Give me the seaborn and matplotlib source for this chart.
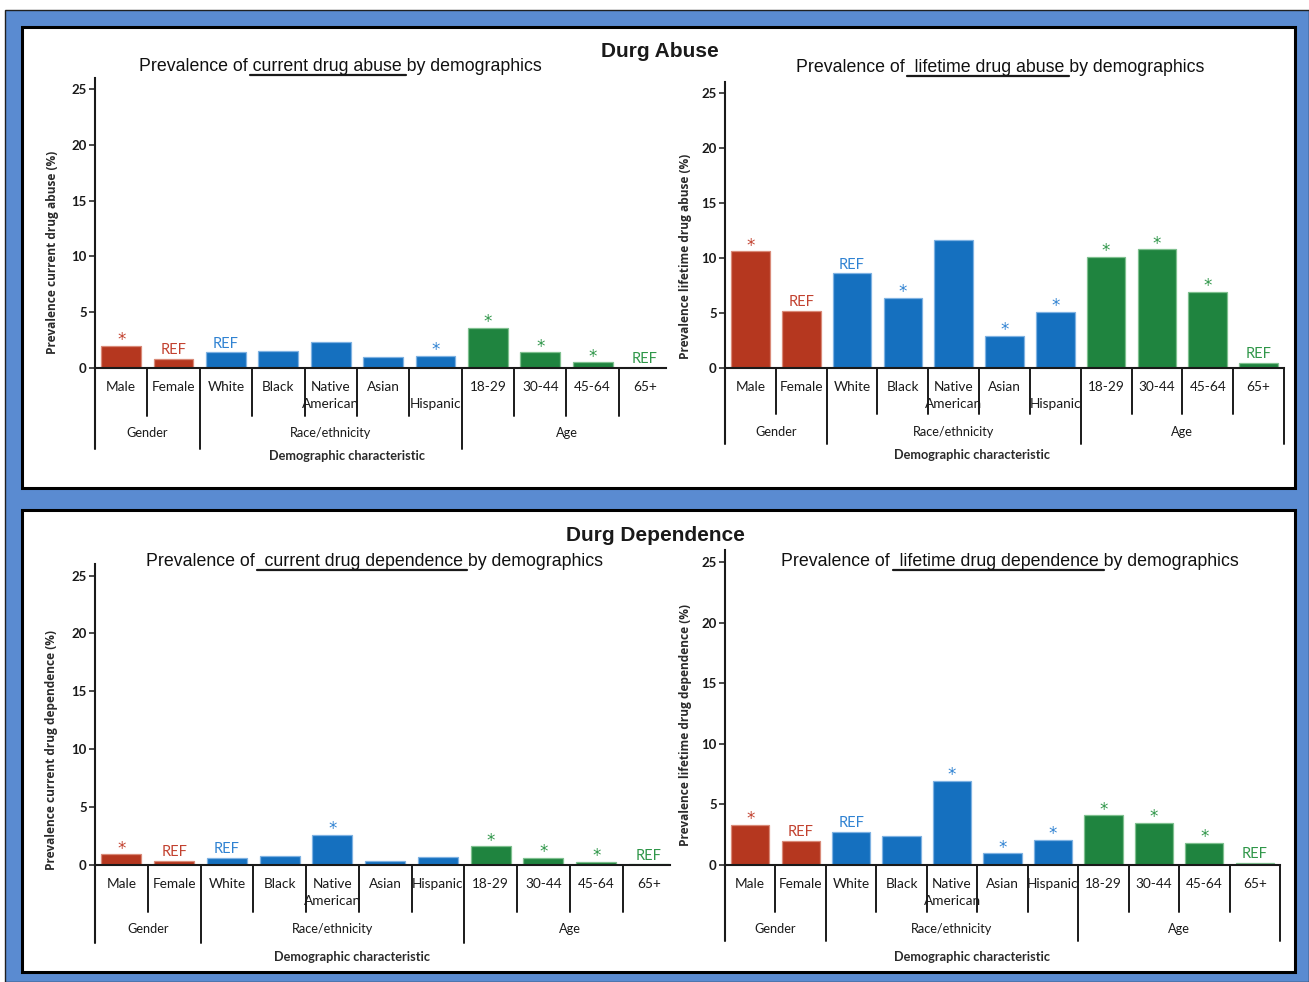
import matplotlib
matplotlib.use("Agg")
import matplotlib.pyplot as plt
import seaborn as sns
import pandas as pd
from matplotlib import transforms
from matplotlib.patches import Rectangle
from matplotlib.lines import Line2D

# ---------------- data ----------------
categories = ["Male", "Female", "White", "Black", "Native American", "Asian",
              "Hispanic", "18-29", "30-44", "45-64", "65+"]
groups = ["Gender", "Gender", "Race/ethnicity", "Race/ethnicity", "Race/ethnicity",
          "Race/ethnicity", "Race/ethnicity", "Age", "Age", "Age", "Age"]
group_names = ["Gender", "Race/ethnicity", "Age"]

current_abuse = [2.0, 0.8, 1.4, 1.55, 2.3, 0.95, 1.1, 3.6, 1.4, 0.5, 0.0]
lifetime_abuse = [10.6, 5.2, 8.6, 6.4, 11.6, 2.9, 5.1, 10.1, 10.8, 6.9, 0.5]
current_dependence = [0.92, 0.37, 0.6, 0.8, 2.6, 0.35, 0.72, 1.6, 0.6, 0.29, 0.05]
lifetime_dependence = [3.3, 2.0, 2.7, 2.4, 6.95, 0.96, 2.07, 4.1, 3.5, 1.85, 0.2]

current_abuse_marks = ["*", "REF", "REF", "", "", "", "*", "*", "*", "*", "REF"]
lifetime_abuse_marks = ["*", "REF", "REF", "*", "", "*", "*", "*", "*", "*", "REF"]
current_dependence_marks = ["*", "REF", "REF", "", "*", "", "", "*", "*", "*", "REF"]
lifetime_dependence_marks = ["*", "REF", "REF", "", "*", "*", "*", "*", "*", "*", "REF"]

y_ticks = [0, 5, 10, 15, 20, 25]

# ---------------- style ----------------
W, H = 1309, 982
bar_colors = {"Gender": "#b5371f", "Race/ethnicity": "#1570bf", "Age": "#1f843f"}
edge_colors = {"Gender": "#d98a78", "Race/ethnicity": "#7fb2e2", "Age": "#7fc08f"}
mark_colors = {"Gender": "#c2412f", "Race/ethnicity": "#2f82d2", "Age": "#2e9648"}
INK = "#1a1a1a"
LABEL_FONT = "Lato"
TITLE_FONT = "Liberation Sans"

sns.set_style("white")
plt.rcParams["font.family"] = ["Lato", "DejaVu Sans"]

fig = plt.figure(figsize=(W / 100, H / 100), dpi=100)
fig.patch.set_facecolor("white")


def fx(px):
    return px / W


def fy(py):
    return 1 - py / H


# blue frame and the two white boards
fig.add_artist(Rectangle((fx(5), 0), fx(W - 5), (H - 10) / H, transform=fig.transFigure,
                         facecolor="#5a8bd1", edgecolor="#202020", lw=1.0, zorder=-20))
for top, bot in [(27, 488), (510, 972)]:
    fig.add_artist(Rectangle((fx(22), fy(bot)), fx(1295 - 22), (bot - top) / H,
                             transform=fig.transFigure, facecolor="white",
                             edgecolor="black", lw=2.2, zorder=-10))


def underlined_title(cx, base, pre, mid, post, size):
    r = fig.canvas.get_renderer()
    kw = dict(fontsize=size, family=TITLE_FONT, color="#111111")

    def width(s):
        t = fig.text(0, 0, s, **kw)
        w = t.get_window_extent(r).width
        t.remove()
        return w

    ref = width("I")
    w_pre = width(pre + "I") - ref
    w_mid = width(pre + mid + "I") - ref - w_pre
    w_all = width(pre + mid + post)
    x0 = cx - w_all / 2
    fig.text(fx(x0), fy(base), pre + mid + post, ha="left", va="baseline", **kw)
    yl = base + 4
    fig.add_artist(Line2D([fx(x0 + w_pre - 2), fx(x0 + w_pre + w_mid)], [fy(yl), fy(yl)],
                          transform=fig.transFigure, color=INK, lw=1.6))


panels = [
    dict(values=current_abuse, marks=current_abuse_marks,
         title=("Prevalence of ", "current drug abuse ", "by demographics"),
         ylabel="Prevalence current drug abuse (%)",
         left=95, right=666, top=78, bottom=368, xmax=10.4, end_line=False,
         hisp_low=True, short=48, long=81, grp=65, demo=88,
         title_c=340, title_b=71, yl_x=53, yl_y=252, demo_x=347),
    dict(values=lifetime_abuse, marks=lifetime_abuse_marks,
         title=("Prevalence of ", " lifetime drug abuse ", "by demographics"),
         ylabel="Prevalence lifetime drug abuse (%)",
         left=725, right=1284, top=82, bottom=368, xmax=10.5, end_line=True,
         hisp_low=True, short=46, long=76, grp=64, demo=87,
         title_c=1000, title_b=72, yl_x=686, yl_y=256, demo_x=972),
    dict(values=current_dependence, marks=current_dependence_marks,
         title=("Prevalence of ", " current drug dependence ", "by demographics"),
         ylabel="Prevalence current drug dependence (%)",
         left=95, right=670, top=564, bottom=865, xmax=10.4, end_line=False,
         hisp_low=False, short=47, long=78, grp=64, demo=92,
         title_c=374, title_b=566, yl_x=52, yl_y=750, demo_x=352),
    dict(values=lifetime_dependence, marks=lifetime_dependence_marks,
         title=("Prevalence of ", " lifetime drug dependence ", "by demographics"),
         ylabel="Prevalence lifetime drug dependence (%)",
         left=725, right=1280, top=550, bottom=865, xmax=10.5, end_line=True,
         hisp_low=False, short=47, long=76, grp=64, demo=92,
         title_c=1010, title_b=566, yl_x=686, yl_y=725, demo_x=972),
]

for p in panels:
    ax = fig.add_axes([fx(p["left"]), fy(p["bottom"]),
                       fx(p["right"] - p["left"]), (p["bottom"] - p["top"]) / H])
    ax.set_facecolor("none")
    ax_w = p["right"] - p["left"]
    ax_h = p["bottom"] - p["top"]

    df = pd.DataFrame({"category": categories, "group": groups, "value": p["values"]})
    sns.barplot(data=df, x="category", y="value", hue="group", order=categories,
                hue_order=group_names, palette=bar_colors, dodge=False, width=0.76,
                legend=False, ax=ax, linewidth=0.9, saturation=1)
    for patch, g in zip(ax.patches, [g for g in group_names for c, gg in zip(categories, groups) if gg == g]):
        patch.set_edgecolor(edge_colors[g])

    ax.set_xlim(-0.5, p["xmax"])
    ax.set_ylim(0, 26)
    ax.set_yticks(y_ticks)
    ax.set_xticks([])
    ax.set_xlabel("")
    ax.set_ylabel(p["ylabel"], fontsize=8.6, family="Open Sans", fontweight="bold",
                  color="#2a2a2a", va="center")
    ax.yaxis.set_label_coords((p["yl_x"] - p["left"]) / ax_w, (p["bottom"] - p["yl_y"]) / ax_h)
    ax.tick_params(axis="y", direction="out", length=4, width=1.1, color=INK,
                   labelsize=9.5, labelcolor=INK, pad=2, left=True)
    for lab in ax.get_yticklabels():
        lab.set_family(LABEL_FONT)
        lab.set_fontweight("bold")
    sns.despine(ax=ax)
    for side in ("left", "bottom"):
        ax.spines[side].set_color(INK)
        ax.spines[side].set_linewidth(1.5)

    # significance markers
    for i, (v, m, g) in enumerate(zip(p["values"], p["marks"], groups)):
        if m == "*":
            ax.annotate("*", xy=(i, v), xytext=(0, 0.5), textcoords="offset points",
                        ha="center", va="baseline", fontsize=12, family="DejaVu Sans",
                        color=mark_colors[g])
        elif m == "REF":
            ax.annotate("REF", xy=(i, v), xytext=(0, 3.5), textcoords="offset points",
                        ha="center", va="baseline", fontsize=10.5, family=LABEL_FONT,
                        color=mark_colors[g])

    # category axis below the bars
    tr = transforms.blended_transform_factory(ax.transData, ax.transAxes)

    def below(px):
        return -px / ax_h

    boundaries = [i + 0.5 for i in range(len(categories) - 1)]
    for b, (ga, gb) in zip(boundaries, zip(groups[:-1], groups[1:])):
        depth = p["long"] if ga != gb else p["short"]
        ax.add_line(Line2D([b, b], [0, below(depth)], transform=tr, clip_on=False,
                           color=INK, lw=1.4))
    ax.add_line(Line2D([-0.5, -0.5], [0, below(p["long"])], transform=tr, clip_on=False,
                       color=INK, lw=1.5))
    if p["end_line"]:
        ax.add_line(Line2D([10.5, 10.5], [0, below(p["long"])], transform=tr, clip_on=False,
                           color=INK, lw=1.4))

    cat_kw = dict(transform=tr, ha="center", va="center", fontsize=9.8, color=INK)
    for i, c in enumerate(categories):
        if c == "Native American":
            ax.text(i, below(19), "Native", **cat_kw)
            ax.text(i, below(36), "American", **cat_kw)
        elif c == "Hispanic" and p["hisp_low"]:
            ax.text(i, below(36), c, **cat_kw)
        else:
            ax.text(i, below(19), c, **cat_kw)

    for g in group_names:
        idx = [i for i, gg in enumerate(groups) if gg == g]
        ax.text((idx[0] + idx[-1]) / 2, below(p["grp"]), g, transform=tr, ha="center",
                va="center", fontsize=9.2, color=INK)

    fig.text(fx(p["demo_x"]), fy(p["top"] + ax_h + p["demo"]), "Demographic characteristic",
             ha="center", va="center", fontsize=9.2, fontweight="bold", color="#2a2a2a")

    underlined_title(p["title_c"], p["title_b"], *p["title"], size=12.8)

fig.text(fx(660), fy(57), "Durg Abuse", ha="center", va="baseline", fontsize=15,
         fontweight="bold", family=TITLE_FONT, color=INK)
fig.text(fx(655), fy(541), "Durg Dependence", ha="center", va="baseline", fontsize=15,
         fontweight="bold", family=TITLE_FONT, color=INK)

fig.savefig("out.png", dpi=100)
